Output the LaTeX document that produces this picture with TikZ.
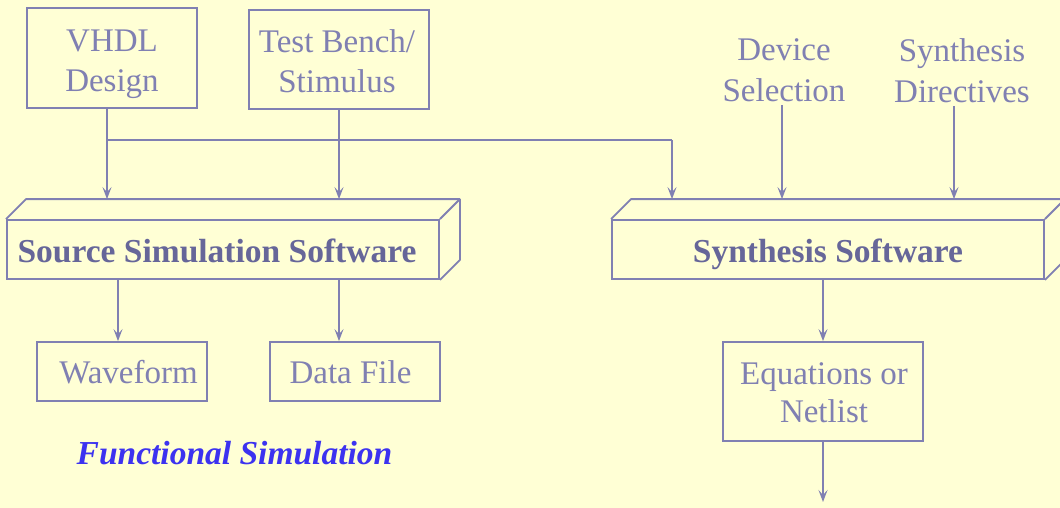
\documentclass[tikz,border=0pt]{standalone}
\usepackage{fontspec}
\setmainfont{Liberation Serif}
\usetikzlibrary{arrows.meta}
\definecolor{paper}{RGB}{255,255,213}
\definecolor{ink}{RGB}{128,128,178}
\definecolor{inkdark}{RGB}{102,102,153}
\definecolor{accent}{RGB}{60,50,240}
\tikzset{
  frame/.style={draw=ink, line width=1.8pt, rectangle, inner sep=0pt},
  caption/.style={inner sep=0pt, align=center, text=ink, font=\fontsize{33}{40}\selectfont},
  heading/.style={inner sep=0pt, anchor=base, text=inkdark, font=\fontsize{33.5}{40}\selectfont\bfseries},
  face/.style={draw=ink, line width=1.8pt, line join=round},
  flow/.style={draw=ink, line width=1.8pt, -{Stealth[length=12pt,width=9pt,inset=5pt]}},
  wire/.style={draw=ink, line width=1.8pt},
}
\begin{document}
\begin{tikzpicture}[x=1pt,y=-1pt]
\useasboundingbox (0,0) rectangle (1060,508);
\clip (0,0) rectangle (1060,508);
\fill[paper] (0,0) rectangle (1060,508);

% input boxes and free-standing inputs
\node[frame, minimum width=170pt, minimum height=100pt] (vhdl) at (112,58) {};
\node[caption, anchor=north] (vhdltext) at (112,30) {VHDL\\Design};
\node[frame, minimum width=180pt, minimum height=99pt] (tb) at (339,59.5) {};
\node[caption, anchor=north] (tbtext) at (337,29.5) {Test Bench/\\Stimulus};
\node[caption, anchor=north, font=\fontsize{33}{41}\selectfont] (dev) at (784,38.2) {Device\\Selection};
\node[caption, anchor=north, font=\fontsize{33}{41}\selectfont] (dir) at (962,38.2) {Synthesis\\Directives};

% the two software blocks, drawn as slabs
\node[frame, minimum width=432pt, minimum height=59pt] (src) at (223,249.5) {};
\node[frame, minimum width=432pt, minimum height=59pt] (syn) at (828,249.5) {};
\node[heading] (srctext) at (217,262.5) {Source Simulation Software};
\node[heading] (syntext) at (828,262.5) {Synthesis Software};
\foreach \s in {src,syn}{
  \draw[face] (\s.north west) -- ++(20,-20) -- ([shift={(20,-20)}]\s.north east)
    -- ([shift={(20,-20)}]\s.south east) -- (\s.south east);
  \draw[face] (\s.north east) -- ++(20,-20);
  \coordinate (\s back) at ([shift={(20,-20)}]\s.north west);
}

% output boxes
\node[frame, minimum width=170pt, minimum height=59pt] (wave) at (122,371.5) {};
\node[caption, anchor=base] (wavetext) at (128.5,383) {Waveform};
\node[frame, minimum width=170pt, minimum height=59pt] (data) at (355,371.5) {};
\node[caption, anchor=base] (datatext) at (350.5,383) {Data File};
\node[frame, minimum width=200pt, minimum height=99pt] (eq) at (823,391.5) {};
\node[caption, anchor=north, font=\fontsize{33}{38}\selectfont] (eqtext) at (824,362.5) {Equations or\\Netlist};

\node[inner sep=0pt, anchor=base, text=accent, font=\fontsize{33.5}{40}\selectfont\bfseries\itshape] (fs) at (234.5,464) {Functional Simulation};

% connectors
\coordinate (j1) at (107,140);
\coordinate (j2) at (672,140);
\draw[flow] (vhdl.south -| j1) -- (j1 |- srcback);
\draw[wire] (j1) -- (j2);
\draw[flow] (j2) -- (j2 |- synback);
\draw[flow] (tb.south) -- (tb.south |- srcback);
\draw[flow] ([yshift=-3pt]dev.south -| 782,0) -- (synback -| 782,0);
\draw[flow] ([yshift=-3pt]dir.south -| 954,0) -- (synback -| 954,0);
\draw[flow] (src.south -| 118,0) -- (wave.north -| 118,0);
\draw[flow] (src.south -| tb.south) -- (data.north -| tb.south);
\draw[flow] (syn.south -| eq.north) -- (eq.north);
\coordinate (out) at (823,502);
\draw[flow] (eq.south) -- (out);
\end{tikzpicture}
\end{document}
